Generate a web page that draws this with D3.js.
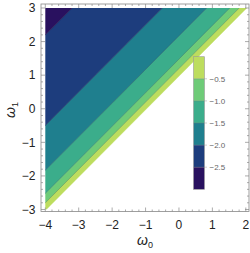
<!DOCTYPE html>
<html>
<head>
<meta charset="utf-8">
<script src="https://cdn.jsdelivr.net/npm/d3@7"></script>
<style>
  html, body { margin: 0; padding: 0; background: #fff; }
  svg { display: block; font-family: "Liberation Sans", Arial, sans-serif; }
</style>
</head>
<body>
<div class="chart"></div>
<script>
// contour levels (colorbar) and where each contour sits, as offset d = w1 - w0 - 1
const contourLevels = [-0.5, -1.0, -1.5, -2.0, -2.5];
const contourOffsets = [0.2, 0.48, 1.17, 2.5, 5.2];
const edgeOffset = -0.03; // region exists only for w1 >= w0 + 1 (roughly)
// band colours, from the band next to the edge (highest value) down to the lowest
const bandColors = ["#bddd5e", "#6ecb78", "#3bad8b", "#1f7f8e", "#1d3d7d", "#29115f"];
const xTicks = [-4, -3, -2, -1, 0, 1, 2];
const yTicks = [-3, -2, -1, 0, 1, 2, 3];
const barTicks = [-0.5, -1.0, -1.5, -2.0, -2.5];

const width = 250, height = 253;
const frame = { left: 41, right: 249, top: 4, bottom: 211.5 };

const x = d3.scaleLinear().domain([-4, 2]).range([45.3, 245.8]);
const y = d3.scaleLinear().domain([-3, 3]).range([209.5, 8]);

const svg = d3.select(".chart").append("svg")
  .attr("width", width).attr("height", height);

svg.append("clipPath").attr("id", "plotclip")
  .append("rect")
  .attr("x", x(-4)).attr("y", y(3))
  .attr("width", x(2) - x(-4) + 1.5).attr("height", y(-3) - y(3));

// bands as strips between two parallel lines, clipped to the data square
const bounds = [edgeOffset, ...contourOffsets, 40];
const strip = (lo, hi) => [
  [-20, -20 + 1 + lo], [20, 20 + 1 + lo], [20, 20 + 1 + hi], [-20, -20 + 1 + hi]
];
const line = d3.line().x((d) => x(d[0])).y((d) => y(d[1]));

const plot = svg.append("g").attr("clip-path", "url(#plotclip)");
plot.selectAll(".band")
  .data(bandColors)
  .join("path")
  .attr("class", "band")
  .attr("d", (c, i) => line(strip(bounds[i], bounds[i + 1])) + "Z")
  .attr("fill", (c) => c)
  .attr("stroke", (c) => c)
  .attr("stroke-width", 0.4);

plot.selectAll(".cline")
  .data(contourOffsets)
  .join("path")
  .attr("class", "cline")
  .attr("d", (d) => line([[-20, -19 + d], [20, 21 + d]]))
  .attr("fill", "none")
  .attr("stroke", "#222")
  .attr("stroke-opacity", 0.35)
  .attr("stroke-width", 0.6);

// frame with inward ticks on all sides
const frameColor = "#888";
svg.append("rect")
  .attr("x", frame.left).attr("y", frame.top)
  .attr("width", frame.right - frame.left).attr("height", frame.bottom - frame.top)
  .attr("fill", "none").attr("stroke", frameColor).attr("stroke-width", 0.8);

const minor = (lo, hi) => d3.range(Math.round(lo * 5), Math.round(hi * 5) + 1).map((k) => k / 5);
const xMinor = minor(-4, 2).filter((v) => x(v) > frame.left && x(v) < frame.right);
const yMinor = minor(-3, 3).filter((v) => y(v) > frame.top && y(v) < frame.bottom);
const isMajor = (v) => Math.abs(v - Math.round(v)) < 1e-9;

const ticks = svg.append("g").attr("stroke", frameColor).attr("stroke-width", 0.7);
xMinor.forEach((v) => {
  const len = isMajor(v) ? 4 : 2;
  ticks.append("line").attr("x1", x(v)).attr("x2", x(v))
    .attr("y1", frame.bottom).attr("y2", frame.bottom - len);
  ticks.append("line").attr("x1", x(v)).attr("x2", x(v))
    .attr("y1", frame.top).attr("y2", frame.top + len);
});
yMinor.forEach((v) => {
  const len = isMajor(v) ? 4 : 2;
  ticks.append("line").attr("y1", y(v)).attr("y2", y(v))
    .attr("x1", frame.left).attr("x2", frame.left + len);
  ticks.append("line").attr("y1", y(v)).attr("y2", y(v))
    .attr("x1", frame.right).attr("x2", frame.right - len);
});

const fmt = (v) => (v < 0 ? "\u2212" + Math.abs(v) : String(v));

svg.append("g").selectAll("text")
  .data(xTicks)
  .join("text")
  .attr("x", (d) => x(d))
  .attr("y", 228.5)
  .attr("text-anchor", "middle")
  .style("font-size", "12px")
  .style("fill", "#222")
  .text(fmt);

svg.append("g").selectAll("text")
  .data(yTicks)
  .join("text")
  .attr("x", 35.5)
  .attr("y", (d) => y(d) + 4.3)
  .attr("text-anchor", "end")
  .style("font-size", "12px")
  .style("fill", "#222")
  .text(fmt);

// axis titles
const xt = svg.append("text")
  .attr("x", 145).attr("y", 245)
  .attr("text-anchor", "middle")
  .style("font-size", "14px").style("fill", "#222");
xt.append("tspan").style("font-style", "italic").text("\u03C9");
xt.append("tspan").attr("dy", 3).style("font-size", "9px").text("0");

const yt = svg.append("text")
  .attr("transform", "translate(15,110) rotate(-90)")
  .attr("text-anchor", "middle")
  .style("font-size", "14px").style("fill", "#222");
yt.append("tspan").style("font-style", "italic").text("\u03C9");
yt.append("tspan").attr("dy", 3).style("font-size", "9px").text("1");

// colour bar
const bar = { x: 193.5, w: 11 };
const cb = d3.scaleLinear().domain([-3, 0]).range([189.3, 56.7]);
const barEdges = [0, ...contourLevels, -3];
const cbg = svg.append("g");
cbg.selectAll("rect")
  .data(bandColors)
  .join("rect")
  .attr("x", bar.x)
  .attr("y", (c, i) => cb(barEdges[i]))
  .attr("width", bar.w)
  .attr("height", (c, i) => cb(barEdges[i + 1]) - cb(barEdges[i]))
  .attr("fill", (c) => c);
cbg.selectAll(".sep")
  .data(barTicks)
  .join("line")
  .attr("class", "sep")
  .attr("x1", bar.x).attr("x2", bar.x + bar.w + 2.5)
  .attr("y1", (d) => cb(d)).attr("y2", (d) => cb(d))
  .attr("stroke", "#777").attr("stroke-opacity", 0.6).attr("stroke-width", 0.6);
cbg.append("rect")
  .attr("x", bar.x).attr("y", cb(0))
  .attr("width", bar.w).attr("height", cb(-3) - cb(0))
  .attr("fill", "none").attr("stroke", "#999").attr("stroke-width", 0.6);
cbg.selectAll(".lab")
  .data(barTicks)
  .join("text")
  .attr("class", "lab")
  .attr("x", 209.5)
  .attr("y", (d) => cb(d) + 3)
  .style("font-size", "8px")
  .style("fill", "#666")
  .text((d) => "\u2212" + Math.abs(d).toFixed(1));
</script>
</body>
</html>
